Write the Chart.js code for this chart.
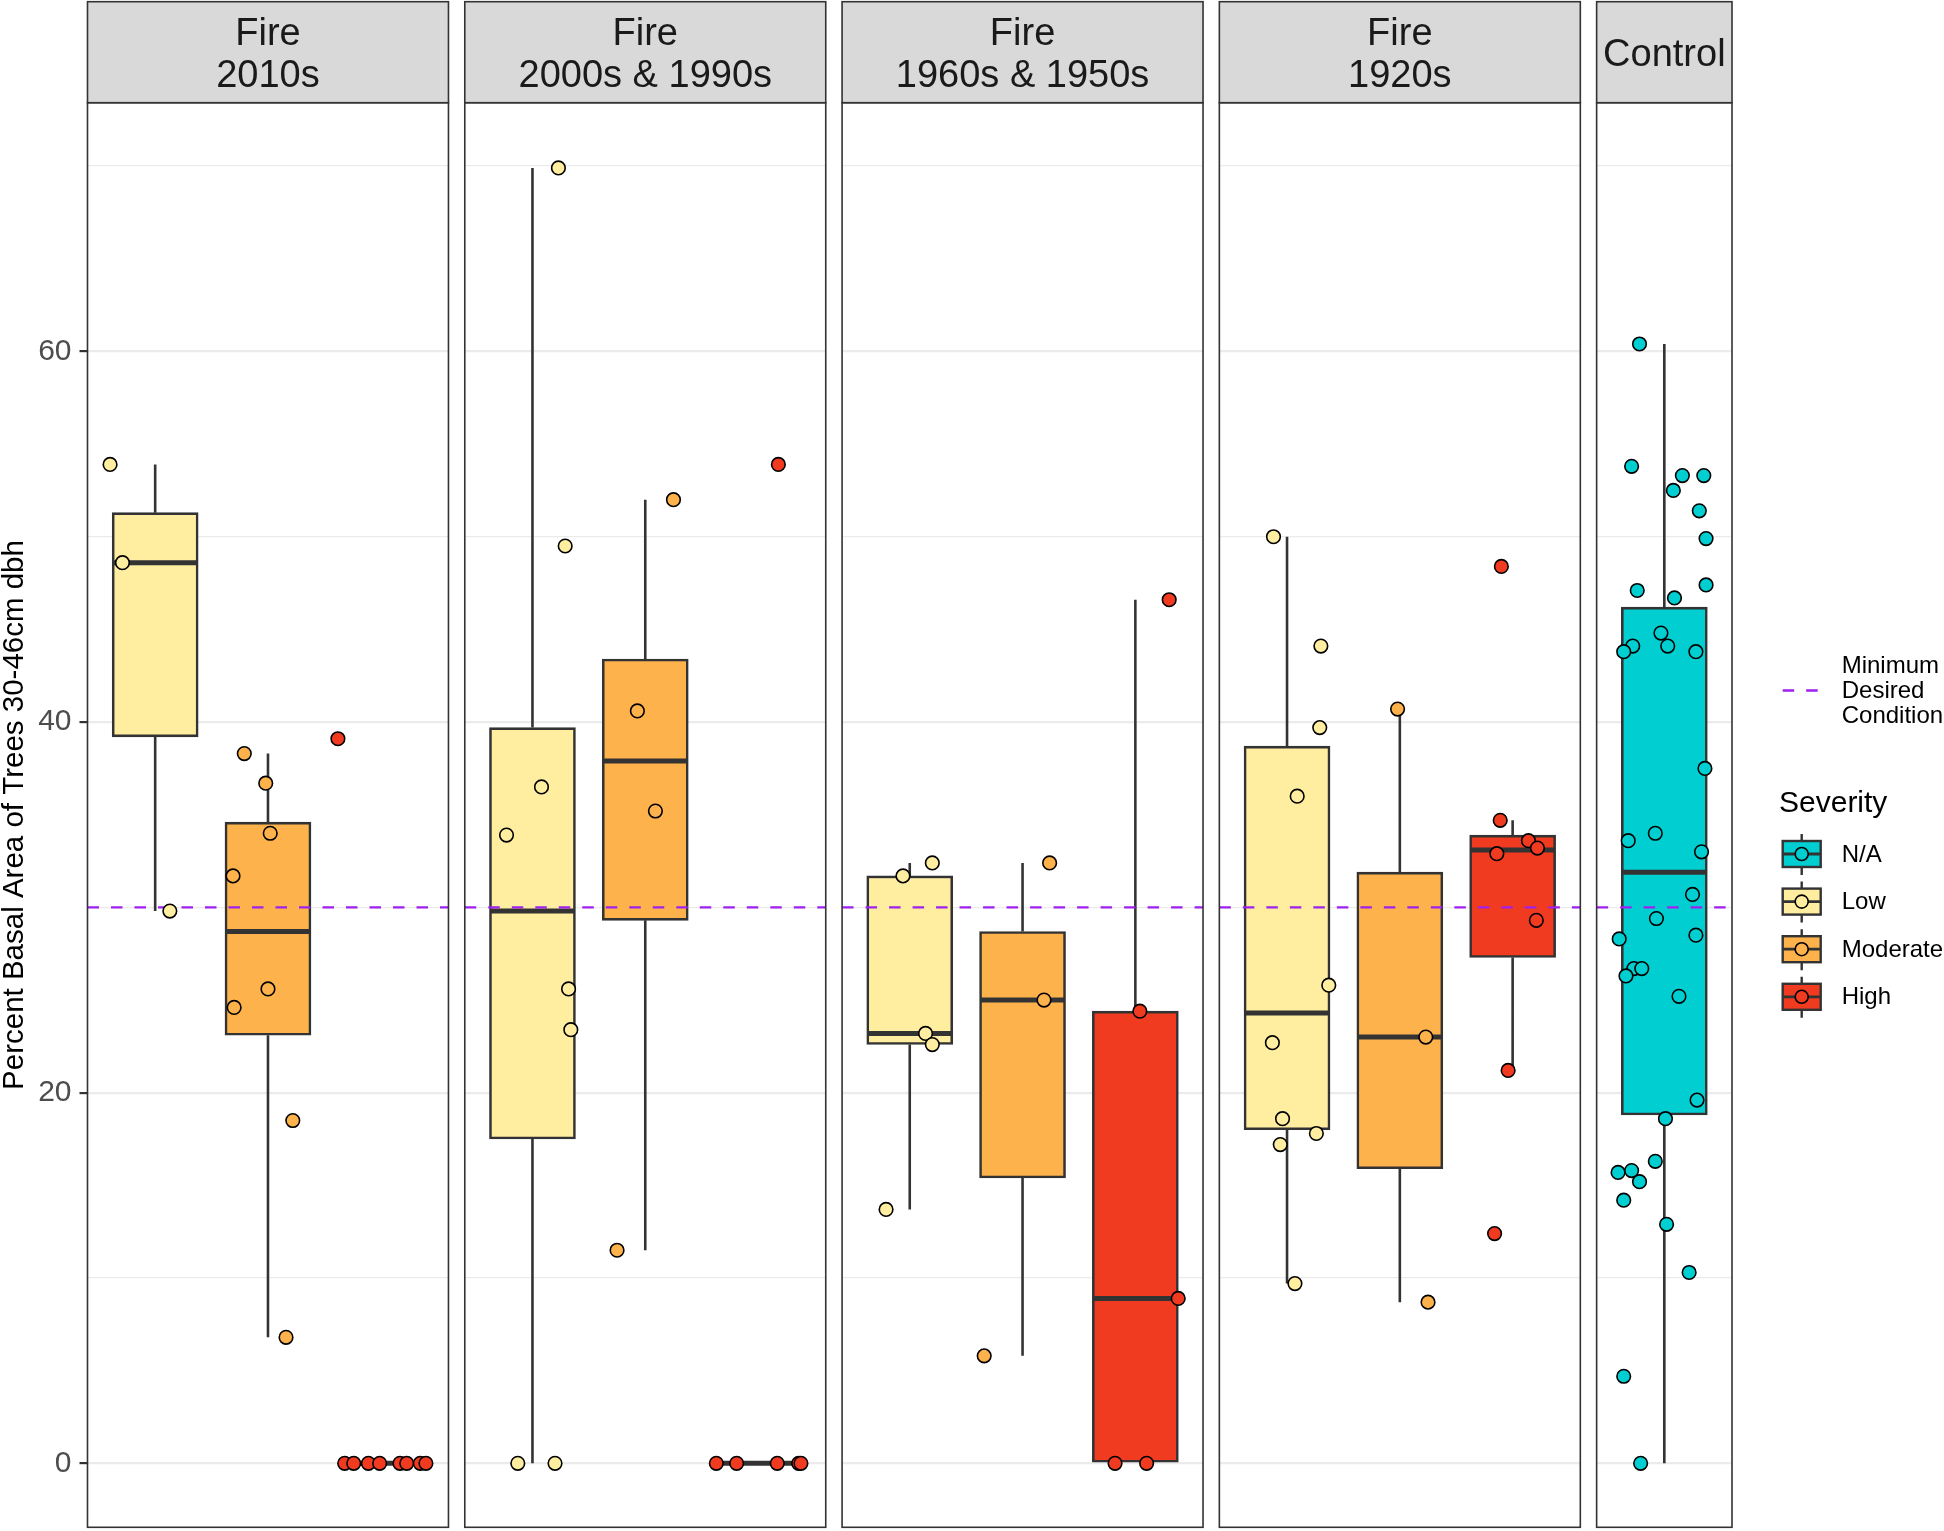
<!DOCTYPE html>
<html>
<head>
<meta charset="utf-8">
<script src="https://cdn.jsdelivr.net/npm/chart.js@4.4.1/dist/chart.umd.min.js"></script>
<style>
html,body{margin:0;padding:0;background:#ffffff;}
canvas{display:block;}
</style>
</head>
<body>
<canvas id="c" width="1944" height="1531"></canvas>
<script>
// ---------------- DATA ----------------
const facetLabels = [['Fire', '2010s'], ['Fire', '2000s & 1990s'], ['Fire', '1960s & 1950s'], ['Fire', '1920s'], ['Control']];
const severityLevels = ['N/A', 'Low', 'Moderate', 'High'];
const yTickValues = [0, 20, 40, 60];
const yGridValues = [0, 10, 20, 30, 40, 50, 60, 70];
const yAxisTitle = 'Percent Basal Area of Trees 30-46cm dbh';
const thresholdValue = 30;
const thresholdLabel = ['Minimum', 'Desired', 'Condition'];
const legendTitle = 'Severity';

// box statistics: [lower whisker, Q1, median, Q3, upper whisker]
const box2010sLow = [29.8, 39.2, 48.6, 51.3, 53.9];
const box2010sModerate = [6.8, 23.1, 28.7, 34.6, 38.3];
const box2010sHigh = [0, 0, 0, 0, 0];
const box2000sLow = [0, 17.5, 29.8, 39.7, 69.9];
const box2000sModerate = [11.5, 29.3, 37.9, 43.4, 52.0];
const box2000sHigh = [0, 0, 0, 0, 0];
const box1960sLow = [13.7, 22.6, 23.2, 31.7, 32.4];
const box1960sModerate = [5.8, 15.4, 25.0, 28.7, 32.4];
const box1960sHigh = [0, 0, 8.9, 24.4, 46.6];
const box1920sLow = [9.7, 18.0, 24.3, 38.7, 50.0];
const box1920sModerate = [8.7, 15.9, 23.0, 31.9, 40.7];
const box1920sHigh = [21.2, 27.3, 33.1, 33.9, 34.7];
const boxControlNA = [0, 18.8, 31.9, 46.2, 60.4];

// plotted (jittered) observations: values and jittered category positions
const pts2010sLow = [53.9, 48.6, 29.8];
const jit2010sLow = [0.60, 0.71, 1.13];
const pts2010sModerate = [38.3, 36.7, 34.0, 31.7, 25.6, 24.6, 18.5, 6.8];
const jit2010sModerate = [1.79, 1.98, 2.02, 1.69, 2.00, 1.70, 2.22, 2.16];
const pts2010sHigh = [39.1, 0, 0, 0, 0, 0, 0, 0, 0];
const jit2010sHigh = [2.62, 2.68, 2.76, 2.89, 2.99, 3.17, 3.23, 3.35, 3.40];
const pts2000sLow = [69.9, 49.5, 36.5, 33.9, 25.6, 23.4, 0, 0];
const jit2000sLow = [1.23, 1.29, 1.08, 0.77, 1.32, 1.34, 0.87, 1.20];
const pts2000sModerate = [52.0, 40.6, 35.2, 11.5];
const jit2000sModerate = [2.25, 1.93, 2.09, 1.75];
const pts2000sHigh = [53.9, 0, 0, 0, 0, 0];
const jit2000sHigh = [3.18, 2.63, 2.81, 3.17, 3.36, 3.38];
const pts1960sLow = [31.7, 32.4, 23.2, 22.6, 13.7];
const jit1960sLow = [0.94, 1.20, 1.14, 1.20, 0.79];
const pts1960sModerate = [32.4, 25.0, 5.8];
const jit1960sModerate = [2.24, 2.19, 1.66];
const pts1960sHigh = [46.6, 24.4, 8.9, 0, 0];
const jit1960sHigh = [3.30, 3.04, 3.38, 2.82, 3.10];
const pts1920sLow = [50.0, 44.1, 39.7, 36.0, 25.8, 22.7, 18.6, 17.8, 17.2, 9.7];
const jit1920sLow = [0.88, 1.30, 1.29, 1.09, 1.37, 0.87, 0.96, 1.26, 0.94, 1.07];
const pts1920sModerate = [40.7, 23.0, 8.7];
const jit1920sModerate = [1.98, 2.23, 2.25];
const pts1920sHigh = [48.4, 34.7, 33.6, 33.2, 32.9, 29.3, 21.2, 12.4];
const jit1920sHigh = [2.90, 2.89, 3.14, 3.22, 2.86, 3.21, 2.96, 2.84];
const ptsControlNA = [60.4, 53.8, 53.3, 53.3, 52.5, 51.4, 49.9, 47.1, 47.4, 46.7, 44.8, 44.1, 43.8, 44.1, 43.8,
  37.5, 33.6, 34.0, 33.0, 30.7, 29.4, 28.3, 28.5, 26.7, 26.7, 26.3, 25.2, 19.6, 18.6, 16.3, 15.7, 15.8, 15.2,
  14.2, 12.9, 10.3, 4.7, 0];
const jitControlNA = [0.78, 0.71, 1.16, 1.35, 1.08, 1.31, 1.37, 0.76, 1.37, 1.09, 0.97, 0.72, 0.64, 1.03, 1.28,
  1.36, 0.68, 0.92, 1.33, 1.25, 0.93, 0.60, 1.28, 0.73, 0.80, 0.66, 1.13, 1.29, 1.01, 0.92, 0.59, 0.71, 0.78,
  0.64, 1.02, 1.22, 0.64, 0.79];

// ---------------- STYLE ----------------
const FONT = "'Liberation Sans', Arial, Helvetica, sans-serif";
const sevColor = { 'N/A': '#00CED1', 'Low': '#FFEDA0', 'Moderate': '#FEB24C', 'High': '#F03B20' };
const LINE = '#333333';
const THRESH = '#A020F0';
const BOX_W = 0.75;
const GAP = 0.1447;

const facets = [
  { cats: ['Low', 'Moderate', 'High'], boxes: [box2010sLow, box2010sModerate, box2010sHigh],
    pts: [[pts2010sLow, jit2010sLow], [pts2010sModerate, jit2010sModerate], [pts2010sHigh, jit2010sHigh]] },
  { cats: ['Low', 'Moderate', 'High'], boxes: [box2000sLow, box2000sModerate, box2000sHigh],
    pts: [[pts2000sLow, jit2000sLow], [pts2000sModerate, jit2000sModerate], [pts2000sHigh, jit2000sHigh]] },
  { cats: ['Low', 'Moderate', 'High'], boxes: [box1960sLow, box1960sModerate, box1960sHigh],
    pts: [[pts1960sLow, jit1960sLow], [pts1960sModerate, jit1960sModerate], [pts1960sHigh, jit1960sHigh]] },
  { cats: ['Low', 'Moderate', 'High'], boxes: [box1920sLow, box1920sModerate, box1920sHigh],
    pts: [[pts1920sLow, jit1920sLow], [pts1920sModerate, jit1920sModerate], [pts1920sHigh, jit1920sHigh]] },
  { cats: ['N/A'], boxes: [boxControlNA], pts: [[ptsControlNA, jitControlNA]] }
];

const panels = [];
let off = 0;
facets.forEach((f, i) => {
  const w = f.cats.length + 0.2;
  panels.push({ start: off, end: off + w, label: facetLabels[i] });
  off += w + GAP;
});
const xMax = panels[panels.length - 1].end;

// ---------------- DATASETS ----------------
const boxData = [], boxColors = [], whiskerData = [], medianData = [], threshData = [];
const pointSets = {};
severityLevels.forEach(s => pointSets[s] = []);
facets.forEach((f, p) => {
  const o = panels[p].start;
  f.cats.forEach((cat, k) => {
    const cx = o + (k + 1) - 0.4;
    const b = f.boxes[k];
    boxData.push({ x: cx, y: [b[1], b[3]] });
    boxColors.push(sevColor[cat]);
    whiskerData.push({ x: cx, y: b[0] }, { x: cx, y: b[1] }, { x: cx, y: null });
    whiskerData.push({ x: cx, y: b[3] }, { x: cx, y: b[4] }, { x: cx, y: null });
    medianData.push({ x: cx - BOX_W / 2, y: b[2] }, { x: cx + BOX_W / 2, y: b[2] }, { x: cx + BOX_W / 2, y: null });
    const [vals, jits] = f.pts[k];
    vals.forEach((v, i) => pointSets[cat].push({ x: o + jits[i] - 0.4, y: v }));
  });
  threshData.push({ x: panels[p].start, y: thresholdValue }, { x: panels[p].end, y: thresholdValue }, { x: panels[p].end, y: null });
});

const datasets = [];
severityLevels.forEach(s => {
  datasets.push({
    type: 'line', label: s, data: pointSets[s], showLine: false,
    pointRadius: 6.8, pointHoverRadius: 6.8, pointBorderWidth: 1.6,
    pointBackgroundColor: sevColor[s], pointBorderColor: '#000000', order: 0
  });
});
datasets.push({ type: 'line', label: 'threshold', data: threshData, borderColor: THRESH, borderWidth: 2.4,
  borderDash: [11.5, 12], pointRadius: 0, spanGaps: false, fill: false, order: 1 });
datasets.push({ type: 'line', label: 'median', data: medianData, borderColor: LINE, borderWidth: 5,
  borderCapStyle: 'butt', pointRadius: 0, spanGaps: false, fill: false, order: 2 });
datasets.push({ type: 'bar', label: 'box', data: boxData, backgroundColor: boxColors, borderColor: LINE,
  borderWidth: 2.6, borderSkipped: false, barThickness: 86, order: 3 });
datasets.push({ type: 'line', label: 'whisker', data: whiskerData, borderColor: LINE, borderWidth: 2.6,
  borderCapStyle: 'butt', pointRadius: 0, spanGaps: false, fill: false, order: 4 });

// ---------------- PLUGIN: panels, strips, legend ----------------
const facetPlugin = {
  id: 'facets',
  beforeDatasetsDraw(chart) {
    const { ctx, chartArea, scales: { x } } = chart;
    ctx.save();
    ctx.fillStyle = '#ffffff';
    for (let i = 0; i < panels.length - 1; i++) {
      const a = x.getPixelForValue(panels[i].end);
      const b = x.getPixelForValue(panels[i + 1].start);
      ctx.fillRect(a, chartArea.top - 1, b - a, chartArea.bottom - chartArea.top + 2);
    }
    ctx.restore();
  },
  afterDatasetsDraw(chart) {
    const { ctx, chartArea, scales: { x } } = chart;
    ctx.save();
    const stripTop = 1.7;
    panels.forEach(p => {
      const l = x.getPixelForValue(p.start);
      const r = x.getPixelForValue(p.end);
      ctx.strokeStyle = LINE;
      ctx.lineWidth = 1.6;
      ctx.strokeRect(l, chartArea.top, r - l, chartArea.bottom - chartArea.top);
      ctx.fillStyle = '#D9D9D9';
      ctx.fillRect(l, stripTop, r - l, chartArea.top - stripTop);
      ctx.strokeRect(l, stripTop, r - l, chartArea.top - stripTop);
      ctx.fillStyle = '#1A1A1A';
      ctx.font = `38px ${FONT}`;
      ctx.textAlign = 'center';
      ctx.textBaseline = 'middle';
      const cx = (l + r) / 2;
      if (p.label.length === 2) {
        ctx.fillText(p.label[0], cx, 35);
        ctx.fillText(p.label[1], cx, 77);
      } else {
        ctx.fillText(p.label[0], cx, 56);
      }
    });
    ctx.restore();
  },
  afterDraw(chart) {
    const { ctx } = chart;
    ctx.save();
    const kx0 = 1782.7, kx1 = 1820.7, kcx = (kx0 + kx1) / 2, tx = 1841.7;
    ctx.strokeStyle = THRESH;
    ctx.lineWidth = 2.4;
    ctx.setLineDash([11.5, 12]);
    ctx.beginPath();
    ctx.moveTo(kx0, 690.5);
    ctx.lineTo(kx1, 690.5);
    ctx.stroke();
    ctx.setLineDash([]);
    ctx.fillStyle = '#000000';
    ctx.font = `24px ${FONT}`;
    ctx.textAlign = 'left';
    ctx.textBaseline = 'middle';
    thresholdLabel.forEach((t, i) => ctx.fillText(t, tx, 666 + i * 25));
    ctx.font = `30px ${FONT}`;
    ctx.fillText(legendTitle, 1779, 804);
    const keyY = [854, 901.6, 949.2, 996.8];
    severityLevels.forEach((s, i) => {
      const cy = keyY[i];
      ctx.strokeStyle = LINE;
      ctx.lineWidth = 2.4;
      ctx.beginPath();
      ctx.moveTo(kcx, cy - 20); ctx.lineTo(kcx, cy - 13);
      ctx.moveTo(kcx, cy + 13); ctx.lineTo(kcx, cy + 21);
      ctx.stroke();
      ctx.fillStyle = sevColor[s];
      ctx.fillRect(kx0, cy - 13, kx1 - kx0, 26);
      ctx.strokeRect(kx0, cy - 13, kx1 - kx0, 26);
      ctx.lineWidth = 2.8;
      ctx.beginPath();
      ctx.moveTo(kx0, cy); ctx.lineTo(kx1, cy);
      ctx.stroke();
      ctx.beginPath();
      ctx.arc(kcx, cy, 6.5, 0, Math.PI * 2);
      ctx.fillStyle = sevColor[s];
      ctx.fill();
      ctx.lineWidth = 1.6;
      ctx.strokeStyle = '#000000';
      ctx.stroke();
      ctx.fillStyle = '#000000';
      ctx.font = `24px ${FONT}`;
      ctx.fillText(s, tx, cy + 1);
    });
    ctx.restore();
  }
};

// ---------------- CHART ----------------
Chart.defaults.font.family = FONT;
new Chart(document.getElementById('c'), {
  type: 'bar',
  data: { datasets },
  options: {
    responsive: false,
    animation: false,
    devicePixelRatio: 1,
    events: [],
    layout: { autoPadding: false, padding: { top: 102.7, bottom: 3.7, left: 0, right: 212 } },
    plugins: { legend: { display: false }, tooltip: { enabled: false } },
    scales: {
      x: { type: 'linear', min: 0, max: xMax, display: false, offset: false, grid: { display: false } },
      y: {
        type: 'linear', min: -3.45, max: 73.42,
        afterBuildTicks: (scale) => { scale.ticks = yGridValues.map(v => ({ value: v })); },
        afterFit: (scale) => { scale.width = 87.5; scale.paddingTop = 0; scale.paddingBottom = 0; },
        border: { display: false },
        grid: {
          color: '#EBEBEB',
          lineWidth: (c) => (c.tick && yTickValues.includes(c.tick.value)) ? 2.2 : 1.2,
          tickColor: (c) => (c.tick && yTickValues.includes(c.tick.value)) ? LINE : 'rgba(0,0,0,0)',
          tickWidth: 2.2,
          tickLength: 8,
          drawTicks: true
        },
        ticks: {
          autoSkip: false,
          padding: 8,
          color: '#4D4D4D',
          font: { size: 30, family: FONT },
          callback: (v) => yTickValues.includes(v) ? String(v) : ''
        },
        title: {
          display: true, text: yAxisTitle, color: '#000000',
          font: { size: 29.5, family: FONT, lineHeight: 1.0 },
          padding: { top: 0, bottom: 0 }
        }
      }
    }
  },
  plugins: [facetPlugin]
});
</script>
</body>
</html>
